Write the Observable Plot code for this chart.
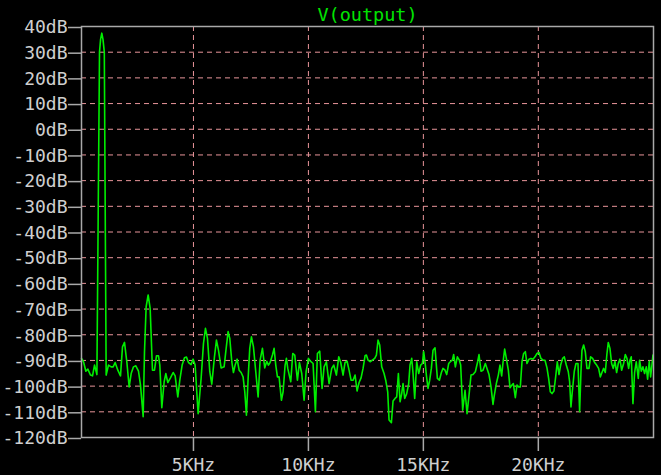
<!DOCTYPE html>
<html><head><meta charset="utf-8">
<script src="https://cdn.jsdelivr.net/npm/d3@7"></script>
<script src="https://cdn.jsdelivr.net/npm/@observablehq/plot@0.6"></script>
<style>
html,body{margin:0;padding:0;background:#000;}
#chart svg{display:block;}
</style></head><body><div id="chart"></div>
<script>
const title = "V(output)";
const xTicks = [5, 10, 15, 20];
const yTicks = [-120, -110, -100, -90, -80, -70, -60, -50, -40, -30, -20, -10, 0, 10, 20, 30, 40];
const yGrid = [-110, -100, -90, -80, -70, -60, -50, -40, -30, -20, -10, 0, 10, 20, 30];
const freqKHz = [
0.13,0.217,0.319,0.406,0.522,0.609,0.696,0.80,0.913,0.96,1.013,1.065,1.122,1.203,1.304,1.42,1.507,1.594,1.71,1.826,1.913,2.0,2.101,2.203,2.29,2.391,2.493,2.609,2.696,2.812,2.87,2.942,3.029,3.116,3.217,3.304,3.391,3.478,3.536,3.623,3.725,3.797,3.884,4.0,4.116,4.203,4.319,4.406,4.507,4.609,4.696,4.783,4.899,4.986,5.072,5.203,5.333,5.435,5.522,5.609,5.71,5.797,5.913,6.0,6.087,6.203,
6.333,6.406,6.507,6.58,6.667,6.739,6.812,6.899,6.986,7.072,7.159,7.232,7.304,7.377,7.449,7.522,7.609,7.71,7.812,7.899,8.0,8.101,8.188,8.261,8.333,8.435,8.507,8.58,8.652,8.725,8.826,8.899,8.986,9.043,9.101,9.232,9.319,9.406,9.522,9.609,9.71,9.812,9.899,10.0,10.087,10.203,10.304,10.391,10.493,10.594,10.681,10.783,10.899,11.014,11.101,11.217,11.319,11.406,11.507,11.594,11.681,11.768,11.855,11.942,12.029,12.116,12.203,12.29,12.377,12.464,
12.522,12.594,12.696,12.783,12.884,12.957,13.029,13.101,13.188,13.29,13.362,13.449,13.507,13.609,13.681,13.768,13.841,13.913,13.986,14.058,14.116,14.188,14.275,14.362,14.42,14.493,14.551,14.623,14.71,14.797,14.884,14.957,15.014,15.087,15.13,15.203,15.275,15.348,15.42,15.507,15.609,15.696,15.783,15.855,15.942,16.014,16.101,16.174,16.261,16.319,16.391,16.478,16.565,16.623,16.71,16.812,16.899,16.986,17.072,17.159,17.261,17.362,17.42,17.507,17.594,17.696,17.768,17.855,17.942,18.029,18.087,18.174,18.261,18.333,18.406,18.464,18.536,18.609,18.696,18.768,
18.855,18.913,19.0,19.072,19.145,19.217,19.29,19.362,19.435,19.507,19.594,19.681,19.768,19.855,19.942,20.029,20.116,20.203,20.29,20.377,20.449,20.522,20.594,20.681,20.754,20.826,20.899,20.971,21.058,21.13,21.217,21.304,21.362,21.42,21.478,21.565,21.638,21.725,21.797,21.855,21.899,21.971,22.043,22.116,22.203,22.275,22.362,22.449,22.536,22.623,22.696,22.768,22.841,22.913,22.986,23.043,23.116,23.188,23.261,23.333,23.406,23.478,23.551,23.623,23.71,23.783,23.855,23.928,23.986,24.043,24.116,24.188,24.261,24.348,24.406,24.478,24.551,24.623,24.696,24.754,24.826,24.884,24.942,24.986
];
const magDB = [
-89.2,-90.5,-94.2,-93.4,-95.7,-96.0,-91.8,-95.5,30,35,37.4,35,30,-95.7,-91.8,-92.5,-92.5,-90.8,-93.8,-96.0,-84.7,-83.0,-90.5,-100.3,-95.1,-92.5,-92.1,-94.2,-99.6,-111.9,-86.6,-69.1,-64.5,-69.7,-93.8,-93.8,-88.2,-88.2,-91.8,-108.4,-98.3,-95.1,-98.6,-96.8,-94.7,-96.0,-104.2,-97.7,-91.8,-89.0,-88.7,-90.8,-91.6,-89.5,-91.8,-110.7,-97.0,-83.4,-77.5,-81.4,-94.4,-99.2,-88.6,-82.1,-86.0,-92.9,
-92.5,-86.6,-78.8,-81.4,-90.5,-94.7,-91.8,-89.5,-93.8,-94.7,-96.4,-102.2,-111.3,-97.0,-85.3,-80.8,-84.7,-94.4,-104.2,-89.9,-85.3,-92.9,-90.3,-91.8,-90.8,-87.9,-85.3,-91.8,-96.4,-96.4,-105.5,-102.2,-91.8,-89.2,-93.1,-98.3,-87.3,-87.9,-97.7,-90.8,-95.1,-105.5,-94.4,-89.2,-90.3,-91.2,-110.0,-87.3,-86.4,-100.9,-92.5,-90.5,-99.0,-93.1,-91.8,-95.7,-88.6,-90.8,-95.7,-90.8,-90.3,-93.8,-97.7,-97.7,-95.7,-101.9,-98.6,-96.8,-93.1,-88.2,
-87.9,-89.9,-90.5,-89.9,-89.2,-87.9,-82.1,-84.0,-92.5,-95.1,-97.7,-102.2,-113.2,-114.2,-105.8,-104.8,-104.2,-95.1,-106.1,-102.9,-99.0,-104.8,-102.9,-99.0,-91.8,-89.2,-95.1,-104.8,-90.5,-95.1,-91.8,-91.2,-86.6,-91.8,-95.7,-100.9,-97.7,-93.1,-86.0,-85.1,-97.0,-97.7,-94.7,-93.1,-93.8,-95.5,-91.2,-90.5,-89.9,-87.7,-92.5,-88.6,-89.9,-91.8,-109.4,-101.6,-110.7,-103.5,-95.7,-95.5,-94.4,-90.5,-87.7,-94.2,-93.8,-91.2,-93.1,-95.5,-100.3,-107.1,-103.5,-99.0,-95.7,-91.8,-96.0,-90.8,-85.6,-89.2,-93.8,-100.6,
-99.6,-99.0,-104.5,-99.6,-100.3,-100.3,-90.5,-87.3,-86.6,-91.2,-89.5,-89.2,-89.5,-88.6,-87.3,-86.9,-89.2,-89.9,-89.9,-92.9,-97.0,-102.2,-102.9,-101.9,-96.4,-90.5,-95.5,-91.8,-89.2,-88.6,-91.8,-94.4,-98.3,-108.1,-102.2,-94.2,-91.2,-91.2,-110.0,-94.4,-86.0,-84.0,-86.6,-93.1,-93.1,-88.6,-89.2,-90.8,-91.8,-93.1,-96.4,-94.7,-93.1,-94.7,-87.3,-83.0,-85.3,-91.2,-93.1,-90.3,-94.7,-91.2,-89.5,-93.8,-91.2,-87.7,-89.2,-93.1,-89.9,-88.6,-106.8,-94.7,-90.5,-97.0,-89.9,-94.2,-92.5,-95.1,-92.5,-97.3,-90.3,-96.4,-91.8,-87.9
];

const n = Math.min(freqKHz.length, magDB.length);
const points = d3.range(n).map(i => ({f: freqKHz[i], db: magDB[i]}));

const gridColor = "#e8959a";
const axisColor = "#a9a9a9";
const textColor = "#cfcfcf";
const font = "'DejaVu Sans Mono', monospace";

const chart = Plot.plot({
  width: 661,
  height: 475,
  marginTop: 26,
  marginLeft: 81,
  marginRight: 8,
  marginBottom: 38,
  style: {background: "#000", fontFamily: font, fontSize: "18px", color: textColor},
  x: {domain: [0.13, 25.01]},
  y: {domain: [-120, 40]},
  marks: [
    Plot.ruleY(yGrid, {stroke: gridColor, strokeDasharray: "5,4", strokeWidth: 1}),
    Plot.ruleX(xTicks, {stroke: gridColor, strokeDasharray: "5,4", strokeWidth: 1}),
    Plot.axisY({ticks: yTicks, tickSize: 13, tickPadding: 1, tickFormat: d => `${d}dB`, stroke: axisColor, fill: textColor, label: null, dy: 1, fontSize: 18, strokeWidth: 1.5}),
    Plot.axisX({ticks: xTicks, tickSize: 14, tickPadding: 7, tickFormat: d => `${d}KHz`, stroke: axisColor, fill: textColor, label: null, fontSize: 18, strokeWidth: 1.5}),
    Plot.line(points, {x: "f", y: "db", stroke: "#00ee00", strokeWidth: 1.6}),
    Plot.frame({stroke: axisColor, strokeWidth: 1.5}),
    Plot.text([title], {text: d => d, frameAnchor: "top", lineAnchor: "bottom", dy: -6, fill: "#00e400", fontSize: 18.5})
  ]
});
document.getElementById("chart").appendChild(chart);
</script>
</body></html>
